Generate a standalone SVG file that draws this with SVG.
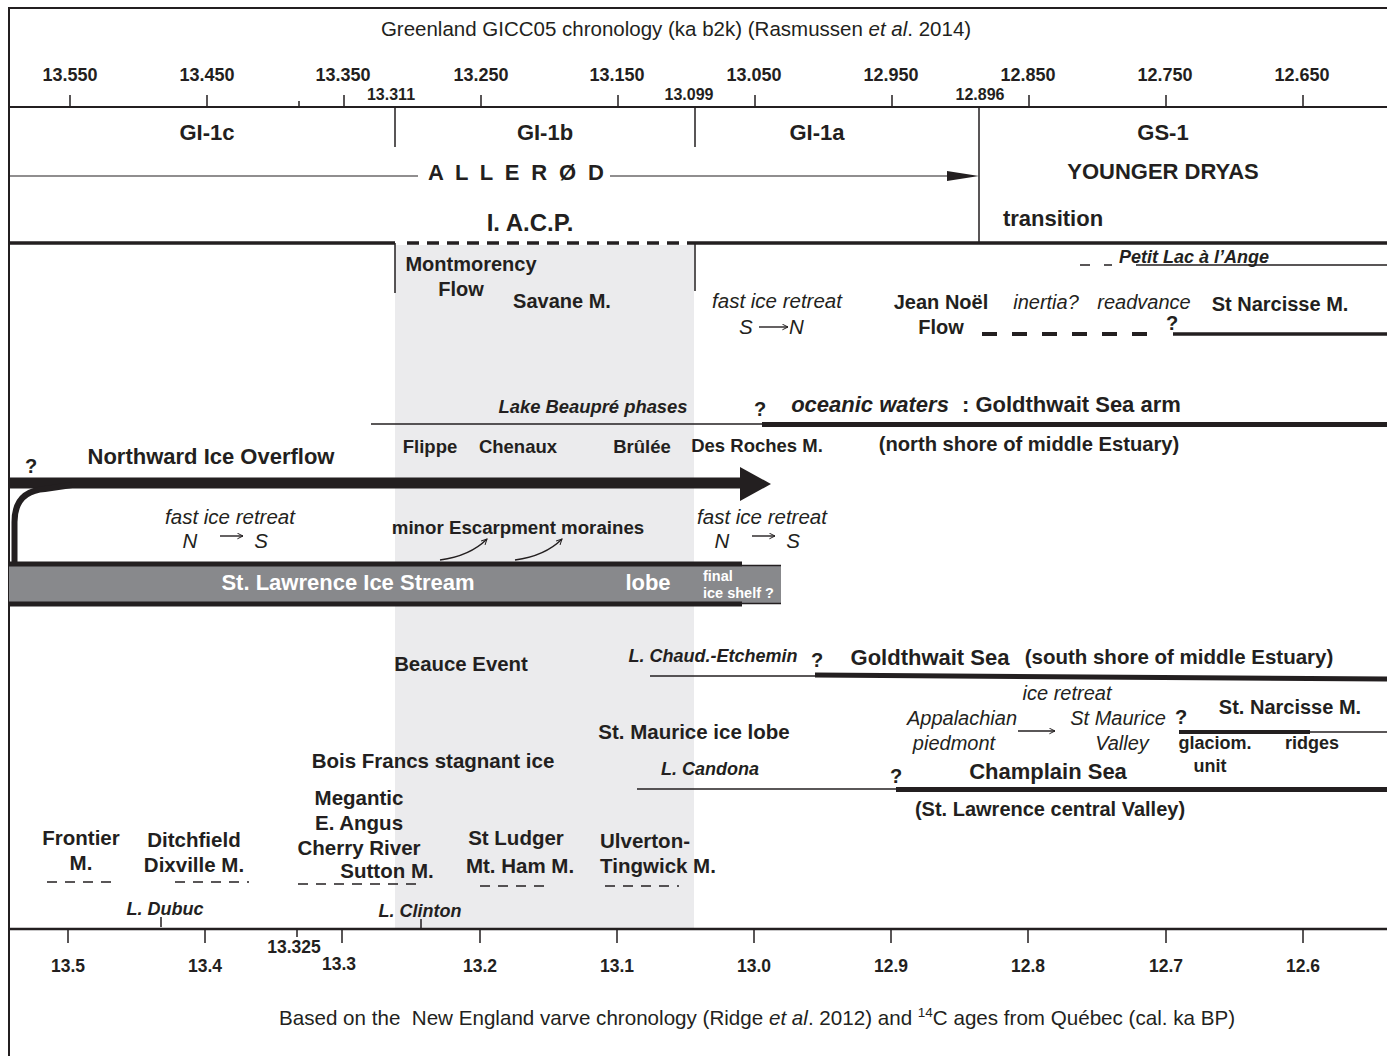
<svg xmlns="http://www.w3.org/2000/svg" width="1387" height="1056" viewBox="0 0 1387 1056">
<defs>
<style>
text{font-family:"Liberation Sans",Arial,sans-serif;fill:#231f20}
.b{font-weight:bold}
.i{font-style:italic}
.c{text-anchor:middle}
.s{text-anchor:start}
.ln{stroke:#231f20;fill:none}
.w{fill:#fff}
</style>
<marker id="oh" viewBox="0 0 10 10" refX="9" refY="5" markerWidth="7" markerHeight="7" orient="auto" markerUnits="userSpaceOnUse">
<path d="M1,1 L9,5 L1,9" fill="none" stroke="#231f20" stroke-width="1.4"/>
</marker>
</defs>
<rect width="1387" height="1056" fill="#fff"/>
<rect id="iacp-shade" x="395" y="245" width="299" height="684" fill="#ebebed"/>

<g id="frame" class="ln" stroke-width="2">
<line x1="9" y1="8" x2="1387" y2="8"/>
<line x1="9" y1="7" x2="9" y2="1056"/>
</g>

<g id="top-axis">
<text class="c" x="676" y="36" font-size="20.5">Greenland GICC05 chronology (ka b2k) (Rasmussen <tspan font-style="italic">et al</tspan>. 2014)</text>
<g class="b c" font-size="18">
<text x="70" y="81">13.550</text><text x="207" y="81">13.450</text><text x="343" y="81">13.350</text><text x="481" y="81">13.250</text><text x="617" y="81">13.150</text><text x="754" y="81">13.050</text><text x="891" y="81">12.950</text><text x="1028" y="81">12.850</text><text x="1165" y="81">12.750</text><text x="1302" y="81">12.650</text>
</g>
<g class="b c" font-size="16">
<text x="391" y="100">13.311</text><text x="689" y="100">13.099</text><text x="980" y="100">12.896</text>
</g>
<g class="ln" stroke-width="1.5">
<path d="M70,95V107M207,95V107M344,95V107M481,95V107M618,95V107M755,95V107M892,95V107M1029,95V107M1166,95V107M1303,95V107M299,101V107"/>
<path d="M395,107V147M695,107V147M979,107V243M395,243V293M695,243V291"/>
</g>
<line class="ln" x1="9" y1="107" x2="1387" y2="107" stroke-width="2"/>
</g>

<g id="periods">
<g class="b c" font-size="22">
<text x="207" y="140">GI-1c</text><text x="545" y="140">GI-1b</text><text x="817" y="140">GI-1a</text><text x="1163" y="140">GS-1</text>
<text x="516" y="180" textLength="176" lengthAdjust="spacing">A L L E R Ø D</text>
<text x="1163" y="179">YOUNGER DRYAS</text>
<text x="1053" y="226">transition</text>
</g>
<text class="b c" x="530" y="231" font-size="24">I. A.C.P.</text>
</g>

<g id="connectors">
<path class="ln" stroke-width="1.2" d="M9,176H418M610,176H950"/>
<polygon points="947,171 979,176 947,181" fill="#231f20"/>
<path class="ln" stroke-width="3.5" d="M9,243H395M695,243H1387"/>
<path class="ln" stroke-width="3.5" stroke-dasharray="12,8" d="M407,243H695"/>
<path class="ln" stroke-width="1.5" d="M1080,265H1090M1104,265H1112M1136,265H1387"/>
<path class="ln" stroke-width="4" stroke-dasharray="15,15" d="M982,334H1147"/>
<path class="ln" stroke-width="3.5" d="M1173,334H1387"/>
<path class="ln" stroke-width="1.4" d="M759,327H788" marker-end="url(#oh)"/>
<path class="ln" stroke-width="1.5" d="M371,424H763"/>
<path class="ln" stroke-width="5" d="M762,424.5H1387"/>
<path class="ln" stroke-width="11" d="M9,483H742"/>
<polygon points="740,467 771,484 740,501" fill="#231f20"/>
<path class="ln" stroke-width="6" d="M14.5,564V522Q14.5,491 45,489L72,485"/>
<path class="ln" stroke-width="1.4" d="M220,536H243" marker-end="url(#oh)"/>
<path class="ln" stroke-width="1.4" d="M752,536H775" marker-end="url(#oh)"/>
<path class="ln" stroke-width="1.4" d="M440,560Q470,556 487,539" marker-end="url(#oh)"/>
<path class="ln" stroke-width="1.4" d="M515,560Q545,556 562,539" marker-end="url(#oh)"/>
<path class="ln" stroke-width="1.5" d="M650,676H816"/>
<path class="ln" stroke-width="5" d="M815,675L1387,679"/>
<path class="ln" stroke-width="1.4" d="M1018,731H1055" marker-end="url(#oh)"/>
<path class="ln" stroke-width="4" d="M1179,732H1310"/>
<path class="ln" stroke-width="1.5" d="M1310,732H1387"/>
<path class="ln" stroke-width="1.5" d="M637,789H897"/>
<path class="ln" stroke-width="5" d="M896,789.5H1387"/>
<path class="ln" stroke-width="1.6" stroke-dasharray="10,8" d="M47,882H119M175,882H249M298,884H421M480,886H549M605,886H679"/>
<path class="ln" stroke-width="1.5" d="M161,917V927M421,919V929"/>
</g>

<g id="ice-stream">
<rect x="9" y="566" width="772" height="38" fill="#88898c"/>
<path class="ln" stroke-width="5" d="M9,564H742M9,604H742"/>
<path class="ln" stroke-width="1.5" d="M742,565.5H781M742,603.5H781"/>
<text class="b c w" x="348" y="590" font-size="22">St. Lawrence Ice Stream</text>
<text class="b c w" x="648" y="590" font-size="22">lobe</text>
<text class="b s w" x="703" y="581" font-size="14.5">final</text>
<text class="b s w" x="703" y="598" font-size="14.5">ice shelf ?</text>
</g>

<g id="north-shore">
<text class="b c" x="471" y="271" font-size="20">Montmorency</text>
<text class="b c" x="461" y="296" font-size="20">Flow</text>
<text class="b c" x="562" y="308" font-size="20">Savane M.</text>
<text class="b i c" x="1194" y="263" font-size="18">Petit Lac à l’Ange</text>
<text class="i c" x="777" y="308" font-size="20.5">fast ice retreat</text>
<text class="i s" x="739" y="334" font-size="20.5">S</text>
<text class="i s" x="789" y="334" font-size="20.5">N</text>
<text class="b c" x="941" y="309" font-size="20">Jean Noël</text>
<text class="b c" x="941" y="334" font-size="20">Flow</text>
<text class="i c" x="1046" y="309" font-size="20">inertia?</text>
<text class="i c" x="1144" y="309" font-size="20">readvance</text>
<text class="b c" x="1280" y="311" font-size="20">St Narcisse M.</text>
<text class="b c" x="1172" y="330" font-size="20">?</text>
<text class="b i c" x="593" y="413" font-size="18.4">Lake Beaupré phases</text>
<text class="b c" x="760" y="416" font-size="20">?</text>
<text class="b i c" x="870" y="412" font-size="22">oceanic waters</text>
<text class="b s" x="962" y="412" font-size="22">: Goldthwait Sea arm</text>
<g class="b c" font-size="18.5">
<text x="430" y="453">Flippe</text><text x="518" y="453">Chenaux</text><text x="642" y="453">Brûlée</text><text x="757" y="452">Des Roches M.</text>
</g>
<text class="b c" x="1029" y="451" font-size="20.2">(north shore of middle Estuary)</text>
</g>

<g id="ice-overflow">
<text class="b c" x="31" y="473" font-size="20">?</text>
<text class="b c" x="211" y="464" font-size="22">Northward Ice Overflow</text>
<text class="i c" x="230" y="524" font-size="20.5">fast ice retreat</text>
<text class="i c" x="190" y="548" font-size="20.5">N</text>
<text class="i c" x="261" y="548" font-size="20.5">S</text>
<text class="b c" x="518" y="534" font-size="18.7">minor Escarpment moraines</text>
<text class="i c" x="762" y="524" font-size="20.5">fast ice retreat</text>
<text class="i c" x="722" y="548" font-size="20.5">N</text>
<text class="i c" x="793" y="548" font-size="20.5">S</text>
</g>

<g id="south-shore">
<text class="b c" x="461" y="671" font-size="20.4">Beauce Event</text>
<text class="b i c" x="713" y="662" font-size="18">L. Chaud.-Etchemin</text>
<text class="b c" x="817" y="667" font-size="20">?</text>
<text class="b c" x="930" y="665" font-size="22">Goldthwait Sea</text>
<text class="b c" x="1179" y="664" font-size="20.5">(south shore of middle Estuary)</text>
<text class="i c" x="1067" y="700" font-size="20">ice retreat</text>
<text class="i c" x="962" y="725" font-size="20">Appalachian</text>
<text class="i c" x="954" y="750" font-size="20">piedmont</text>
<text class="i c" x="1118" y="725" font-size="20">St Maurice</text>
<text class="i c" x="1122" y="750" font-size="20">Valley</text>
<text class="b c" x="1181" y="724" font-size="20">?</text>
<text class="b c" x="1290" y="714" font-size="20">St. Narcisse M.</text>
<text class="b c" x="1215" y="749" font-size="18">glaciom.</text>
<text class="b c" x="1210" y="772" font-size="18">unit</text>
<text class="b c" x="1312" y="749" font-size="18">ridges</text>
<text class="b c" x="694" y="739" font-size="20.5">St. Maurice ice lobe</text>
<text class="b i c" x="710" y="775" font-size="18">L. Candona</text>
<text class="b c" x="896" y="783" font-size="20">?</text>
<text class="b c" x="1048" y="779" font-size="22">Champlain Sea</text>
<text class="b c" x="1050" y="816" font-size="20">(St. Lawrence central Valley)</text>
<text class="b c" x="433" y="768" font-size="20.5">Bois Francs stagnant ice</text>
</g>

<g id="moraines" class="b c" font-size="20.5">
<text x="359" y="805">Megantic</text>
<text x="359" y="830">E. Angus</text>
<text x="359" y="855">Cherry River</text>
<text x="387" y="878">Sutton M.</text>
<text x="81" y="845">Frontier</text>
<text x="81" y="870">M.</text>
<text x="194" y="847">Ditchfield</text>
<text x="194" y="872">Dixville M.</text>
<text x="516" y="845">St Ludger</text>
<text x="520" y="873">Mt. Ham M.</text>
<text x="645" y="848">Ulverton-</text>
<text x="658" y="873">Tingwick M.</text>
</g>
<g id="lakes" class="b i c" font-size="18">
<text x="165" y="915">L. Dubuc</text>
<text x="420" y="917">L. Clinton</text>
</g>

<g id="bottom-axis">
<line class="ln" x1="9" y1="929" x2="1387" y2="929" stroke-width="2.5"/>
<path class="ln" stroke-width="1.5" d="M68,929V943M205,929V943M342,929V943M480,929V943M617,929V943M754,929V943M891,929V943M1028,929V943M1166,929V943M1303,929V943M297,929V937"/>
<g class="b c" font-size="17.5">
<text x="68" y="972">13.5</text><text x="205" y="972">13.4</text><text x="339" y="970">13.3</text><text x="480" y="972">13.2</text><text x="617" y="972">13.1</text><text x="754" y="972">13.0</text><text x="891" y="972">12.9</text><text x="1028" y="972">12.8</text><text x="1166" y="972">12.7</text><text x="1303" y="972">12.6</text>
<text x="294" y="953">13.325</text>
</g>
<text class="c" x="757" y="1025" font-size="20.6">Based on the &#160;New England varve chronology (Ridge <tspan font-style="italic">et al</tspan>. 2012) and <tspan font-size="13.5" dy="-8">14</tspan><tspan dy="8">C ages from Québec (cal. ka BP)</tspan></text>
</g>
</svg>
